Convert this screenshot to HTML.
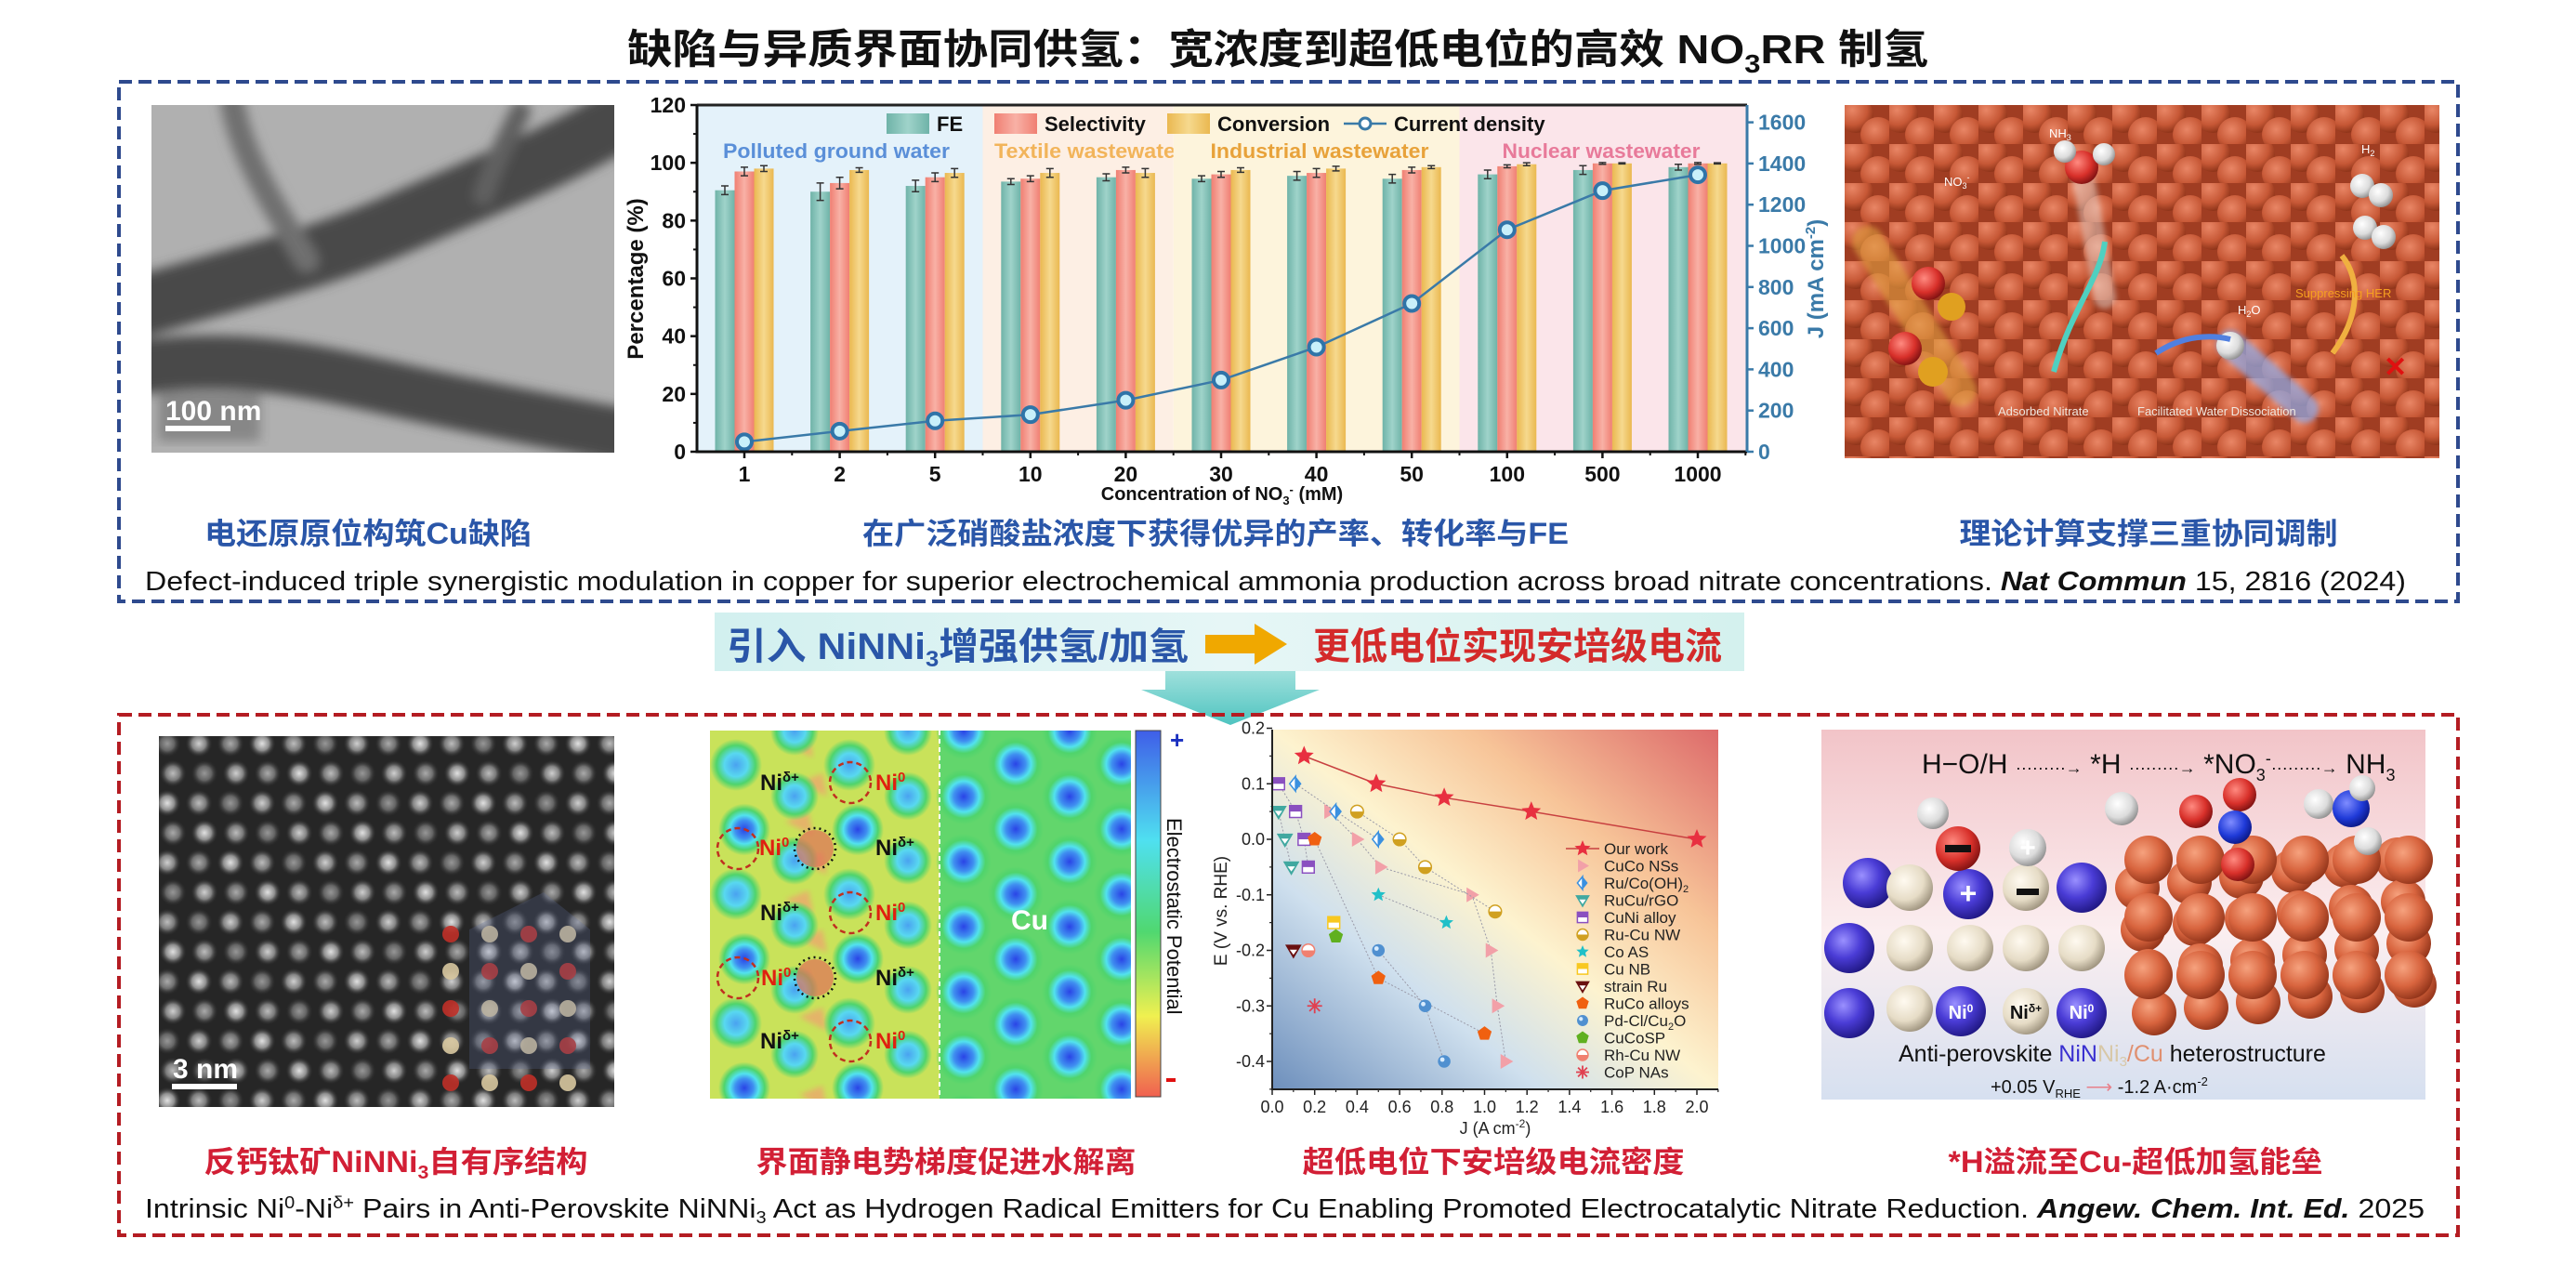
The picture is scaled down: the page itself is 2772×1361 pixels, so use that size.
<!DOCTYPE html>
<html><head><meta charset="utf-8">
<style>
html,body{margin:0;padding:0;background:#fff;}
body{width:2772px;height:1361px;overflow:hidden;position:relative;font-family:"Liberation Sans","Noto Sans CJK SC",sans-serif;}
svg{position:absolute;left:0;top:0;}
text{font-family:"Liberation Sans","Noto Sans CJK SC",sans-serif;}
</style></head>
<body>
<svg id="fig" width="2772" height="1361" viewBox="0 0 2772 1361" xmlns="http://www.w3.org/2000/svg">
<defs>
  <linearGradient id="gTeal" x1="0" x2="1"><stop offset="0" stop-color="#6fb3a8"/><stop offset="0.5" stop-color="#9fd3ca"/><stop offset="1" stop-color="#6fb3a8"/></linearGradient>
  <linearGradient id="gPink" x1="0" x2="1"><stop offset="0" stop-color="#f07f72"/><stop offset="0.5" stop-color="#f8b1a6"/><stop offset="1" stop-color="#f07f72"/></linearGradient>
  <linearGradient id="gYel" x1="0" x2="1"><stop offset="0" stop-color="#eab850"/><stop offset="0.5" stop-color="#f6d98e"/><stop offset="1" stop-color="#eab850"/></linearGradient>
  <linearGradient id="gBot" x1="0" y1="1" x2="1" y2="0">
    <stop offset="0" stop-color="#6d8fbc"/><stop offset="0.3" stop-color="#cfe0ee"/><stop offset="0.5" stop-color="#fdf3cf"/><stop offset="0.72" stop-color="#f7c498"/><stop offset="1" stop-color="#dd6a6a"/></linearGradient>
  <radialGradient id="gCu" cx="0.38" cy="0.35" r="0.7"><stop offset="0" stop-color="#f6a27e"/><stop offset="0.55" stop-color="#d8643e"/><stop offset="1" stop-color="#8e3218"/></radialGradient>
  <radialGradient id="gBlue" cx="0.38" cy="0.35" r="0.7"><stop offset="0" stop-color="#9a90ff"/><stop offset="0.5" stop-color="#4a3cd6"/><stop offset="1" stop-color="#1e1680"/></radialGradient>
  <radialGradient id="gBeige" cx="0.38" cy="0.35" r="0.7"><stop offset="0" stop-color="#fffaf0"/><stop offset="0.6" stop-color="#e6dcc6"/><stop offset="1" stop-color="#9a8f7a"/></radialGradient>
  <radialGradient id="gRed" cx="0.38" cy="0.35" r="0.7"><stop offset="0" stop-color="#ff8a80"/><stop offset="0.6" stop-color="#d8302a"/><stop offset="1" stop-color="#7a1010"/></radialGradient>
  <radialGradient id="gWhite" cx="0.38" cy="0.35" r="0.7"><stop offset="0" stop-color="#ffffff"/><stop offset="0.6" stop-color="#dcdcdc"/><stop offset="1" stop-color="#8a8a8a"/></radialGradient>
  <radialGradient id="gN" cx="0.38" cy="0.35" r="0.7"><stop offset="0" stop-color="#7f8cff"/><stop offset="0.6" stop-color="#1f3ad8"/><stop offset="1" stop-color="#0a1680"/></radialGradient>
  <radialGradient id="gAtom"><stop offset="0" stop-color="#2a44e6"/><stop offset="0.35" stop-color="#3f8ff0"/><stop offset="0.55" stop-color="#52e2ee"/><stop offset="0.78" stop-color="#4fd46c"/><stop offset="1" stop-color="#4fd46c" stop-opacity="0"/></radialGradient>
  <radialGradient id="gAtom2"><stop offset="0" stop-color="#4aa2f0"/><stop offset="0.45" stop-color="#58d8f0"/><stop offset="0.75" stop-color="#4fd46c"/><stop offset="1" stop-color="#4fd46c" stop-opacity="0"/></radialGradient>
  <radialGradient id="gStem"><stop offset="0" stop-color="#f4f4f4"/><stop offset="0.5" stop-color="#9a9a9a"/><stop offset="1" stop-color="#222" stop-opacity="0"/></radialGradient>
  <radialGradient id="gBall" cx="0.4" cy="0.35" r="0.7"><stop offset="0" stop-color="#f09070"/><stop offset="0.6" stop-color="#c85a38"/><stop offset="1" stop-color="#7a2810"/></radialGradient>
  <linearGradient id="gBanner" x1="0" x2="1"><stop offset="0" stop-color="#d2f0ef"/><stop offset="0.5" stop-color="#e6f6f6"/><stop offset="1" stop-color="#d4f1ee"/></linearGradient>
  <linearGradient id="gChev" x1="0" y1="0" x2="0" y2="1"><stop offset="0" stop-color="#9fe0dc"/><stop offset="1" stop-color="#4fc4c0"/></linearGradient>
  <linearGradient id="gRender" x1="0" y1="0" x2="0" y2="1"><stop offset="0" stop-color="#f2c4c8"/><stop offset="0.55" stop-color="#fbeef0"/><stop offset="1" stop-color="#d6e0f0"/></linearGradient>
  <linearGradient id="gCbar" x1="0" y1="0" x2="0" y2="1"><stop offset="0" stop-color="#3f5ee8"/><stop offset="0.3" stop-color="#4fe0f0"/><stop offset="0.55" stop-color="#50d870"/><stop offset="0.78" stop-color="#f0f050"/><stop offset="1" stop-color="#f06050"/></linearGradient>
  <filter id="blur6"><feGaussianBlur stdDeviation="6"/></filter>
  <filter id="blur3"><feGaussianBlur stdDeviation="3"/></filter>
  <pattern id="pBalls" x="1985" y="113" width="48" height="42" patternUnits="userSpaceOnUse">
    <rect width="48" height="42" fill="#9a3a20"/>
    <circle cx="12" cy="11" r="19" fill="url(#gBall)"/>
    <circle cx="36" cy="32" r="19" fill="url(#gBall)"/>
  </pattern>
  <clipPath id="clipMap"><rect x="764" y="786" width="453" height="396"/></clipPath>
  <clipPath id="clipStem"><rect x="171" y="792" width="490" height="399"/></clipPath>
  <clipPath id="clipTem"><rect x="163" y="113" width="498" height="374"/></clipPath>
  <clipPath id="clipDft"><rect x="1985" y="113" width="640" height="380"/></clipPath>
</defs>

<!-- Title -->
<text x="1375" y="68" text-anchor="middle" font-size="44" font-weight="bold" fill="#111" textLength="1400" lengthAdjust="spacingAndGlyphs">缺陷与异质界面协同供氢：宽浓度到超低电位的高效 NO<tspan font-size="28" dy="10">3</tspan><tspan dy="-10">RR 制氢</tspan></text>

<!-- Top box -->
<rect x="128" y="88" width="2517" height="559" fill="none" stroke="#2e4a8e" stroke-width="4" stroke-dasharray="14,7"/>

<!-- TEM image -->
<g clip-path="url(#clipTem)">
  <rect x="163" y="113" width="498" height="374" fill="#b0b0b0"/>
  <g filter="url(#blur6)" fill="none" stroke-linecap="round">
    <path d="M680 120 C600 170 520 200 430 240 C340 280 250 300 150 330" stroke="#4a4a4a" stroke-width="66"/>
    <path d="M150 395 C260 380 340 400 430 420 C520 440 600 455 680 470" stroke="#484848" stroke-width="58"/>
    <path d="M250 110 C260 170 300 230 330 280" stroke="#707070" stroke-width="26"/>
    <path d="M560 120 C540 160 530 180 520 210" stroke="#606060" stroke-width="22"/>
  </g>
  <rect x="170" y="420" width="110" height="55" fill="#2a2a2a" opacity="0.3" filter="url(#blur6)"/>
</g>
<text x="178" y="452" font-size="30" font-weight="bold" fill="#fff">100 nm</text>
<rect x="178" y="458" width="70" height="6" fill="#fff"/>

<!-- top chart -->
<g id="topChart"></g>

<!-- DFT image -->
<g clip-path="url(#clipDft)">
  <rect x="1985" y="113" width="640" height="380" fill="url(#pBalls)"/>
  <rect x="1985" y="113" width="640" height="380" fill="#c05030" opacity="0.15"/>
  <g filter="url(#blur3)">
    <path d="M2010 260 L2110 420" stroke="#e0a040" stroke-width="34" opacity="0.6" stroke-linecap="round"/>
    <path d="M2240 180 L2265 320" stroke="#e8d8d0" stroke-width="24" opacity="0.5" stroke-linecap="round"/>
    <path d="M2400 370 L2480 440" stroke="#8fb0f0" stroke-width="30" opacity="0.7" stroke-linecap="round"/>
  </g>
  <circle cx="2075" cy="305" r="18" fill="url(#gRed)"/><circle cx="2100" cy="330" r="15" fill="#e0a020"/>
  <circle cx="2080" cy="400" r="16" fill="#e0a020"/><circle cx="2050" cy="375" r="18" fill="url(#gRed)"/>
  <circle cx="2240" cy="180" r="18" fill="url(#gRed)"/><circle cx="2222" cy="163" r="12" fill="url(#gWhite)"/><circle cx="2264" cy="166" r="12" fill="url(#gWhite)"/>
  <circle cx="2542" cy="200" r="13" fill="url(#gWhite)"/><circle cx="2562" cy="210" r="13" fill="url(#gWhite)"/>
  <circle cx="2545" cy="245" r="13" fill="url(#gWhite)"/><circle cx="2565" cy="255" r="13" fill="url(#gWhite)"/>
  <circle cx="2400" cy="372" r="15" fill="url(#gWhite)"/>
  <path d="M2210 400 C2230 330 2260 300 2265 260" stroke="#4fd0c0" stroke-width="6" fill="none"/>
  <path d="M2320 380 C2350 360 2380 360 2400 365" stroke="#5080e0" stroke-width="6" fill="none"/>
  <path d="M2510 380 C2540 340 2540 300 2520 275" stroke="#f0b040" stroke-width="6" fill="none"/>
  <text x="2565" y="405" font-size="30" font-weight="bold" fill="#e01010">✕</text>
  <text x="2092" y="200" font-size="13" fill="#fff">NO<tspan font-size="9" dy="3">3</tspan><tspan font-size="9" dy="-9">-</tspan></text>
  <text x="2205" y="148" font-size="13" fill="#fff">NH<tspan font-size="9" dy="3">3</tspan></text>
  <text x="2541" y="165" font-size="13" fill="#fff">H<tspan font-size="9" dy="3">2</tspan></text>
  <text x="2408" y="338" font-size="13" fill="#fff">H<tspan font-size="9" dy="3">2</tspan><tspan dy="-3">O</tspan></text>
  <text x="2470" y="320" font-size="13" fill="#f6a020">Suppressing HER</text>
  <text x="2150" y="447" font-size="13" fill="#f0e8e0">Adsorbed Nitrate</text>
  <text x="2300" y="447" font-size="13" fill="#f0e8e0">Facilitated Water Dissociation</text>
</g>

<!-- Top captions -->
<text x="396" y="585" text-anchor="middle" font-size="32" font-weight="bold" fill="#2a56a8" textLength="352" lengthAdjust="spacingAndGlyphs">电还原原位构筑Cu缺陷</text>
<text x="1308" y="585" text-anchor="middle" font-size="32" font-weight="bold" fill="#2a56a8" textLength="760" lengthAdjust="spacingAndGlyphs">在广泛硝酸盐浓度下获得优异的产率、转化率与FE</text>
<text x="2312" y="585" text-anchor="middle" font-size="32" font-weight="bold" fill="#2a56a8" textLength="407" lengthAdjust="spacingAndGlyphs">理论计算支撑三重协同调制</text>
<text x="156" y="635" font-size="29" fill="#111" textLength="2433" lengthAdjust="spacingAndGlyphs">Defect-induced triple synergistic modulation in copper for superior electrochemical ammonia production across broad nitrate concentrations. <tspan font-weight="bold" font-style="italic">Nat Commun</tspan> 15, 2816 (2024)</text>

<!-- Banner -->
<rect x="769" y="659" width="1108" height="63" fill="url(#gBanner)"/>
<text x="782" y="709" font-size="40" font-weight="bold" fill="#2a56a8" textLength="497" lengthAdjust="spacingAndGlyphs">引入 NiNNi<tspan font-size="24" dy="8">3</tspan><tspan dy="-8">增强供氢/加氢</tspan></text>
<path d="M1297 683 L1350 683 L1350 671 L1385 693 L1350 715 L1350 703 L1297 703 Z" fill="#f0a800"/>
<text x="1413" y="709" font-size="40" font-weight="bold" fill="#d42a2a" textLength="440" lengthAdjust="spacingAndGlyphs">更低电位实现安培级电流</text>
<path d="M1254 722 L1394 722 L1394 742 L1420 742 L1324 780 L1228 742 L1254 742 Z" fill="url(#gChev)"/>

<!-- Bottom box -->
<rect x="128" y="769" width="2517" height="560" fill="none" stroke="#b41c22" stroke-width="4" stroke-dasharray="14,7"/>

<!-- STEM -->
<g id="stem" clip-path="url(#clipStem)">
  <rect x="171" y="792" width="490" height="399" fill="#262626"/>
</g>
<text x="186" y="1160" font-size="30" font-weight="bold" fill="#fff">3 nm</text>
<rect x="185" y="1166" width="70" height="6" fill="#fff"/>

<!-- Electrostatic map -->
<g id="emap" clip-path="url(#clipMap)">
  <rect x="764" y="786" width="250" height="396" fill="#c9e25a"/>
  <rect x="1011" y="786" width="206" height="396" fill="#62d66c"/>
</g>
<rect x="1222" y="786" width="27" height="394" fill="url(#gCbar)" stroke="#444" stroke-width="1"/>
<text x="1259" y="805" font-size="26" font-weight="bold" fill="#1a30c0">+</text>
<rect x="1255" y="1160" width="10" height="4" fill="#e01010"/>
<text transform="translate(1256,880) rotate(90)" font-size="22" fill="#111">Electrostatic Potential</text>

<!-- bottom chart -->
<g id="botChart"></g>

<!-- Right render -->
<g>
  <rect x="1960" y="785" width="650" height="398" fill="url(#gRender)"/>
  <g id="render"></g>
  <text x="2068" y="832" font-size="30" fill="#111">H−O/H <tspan font-size="18">·········→</tspan> *H <tspan font-size="18">·········→</tspan> *NO<tspan font-size="18" dy="8">3</tspan><tspan font-size="18" dy="-18">-</tspan><tspan dy="10" font-size="18">·········→</tspan> NH<tspan font-size="18" dy="8">3</tspan></text>
  <text x="2043" y="1142" font-size="25" fill="#111">Anti-perovskite <tspan fill="#3a30d0">NiN</tspan><tspan fill="#d8c8a8">Ni<tspan font-size="15" dy="5">3</tspan></tspan><tspan dy="-5" fill="#e09070">/Cu</tspan> heterostructure</text>
  <text x="2142" y="1176" font-size="20" fill="#111">+0.05 V<tspan font-size="13" dy="5">RHE</tspan><tspan dy="-5" fill="#e8808a"> ⟶ </tspan>-1.2 A·cm<tspan font-size="13" dy="-8">-2</tspan></text>
</g>

<!-- Bottom captions -->
<text x="426" y="1261" text-anchor="middle" font-size="32" font-weight="bold" fill="#d21f35" textLength="413" lengthAdjust="spacingAndGlyphs">反钙钛矿NiNNi<tspan font-size="20" dy="7">3</tspan><tspan dy="-7">自有序结构</tspan></text>
<text x="1018" y="1261" text-anchor="middle" font-size="32" font-weight="bold" fill="#d21f35" textLength="409" lengthAdjust="spacingAndGlyphs">界面静电势梯度促进水解离</text>
<text x="1607" y="1261" text-anchor="middle" font-size="32" font-weight="bold" fill="#d21f35" textLength="411" lengthAdjust="spacingAndGlyphs">超低电位下安培级电流密度</text>
<text x="2298" y="1261" text-anchor="middle" font-size="32" font-weight="bold" fill="#d21f35" textLength="403" lengthAdjust="spacingAndGlyphs">*H溢流至Cu-超低加氢能垒</text>
<text x="156" y="1310" font-size="29" fill="#111" textLength="2453" lengthAdjust="spacingAndGlyphs">Intrinsic Ni<tspan font-size="18" dy="-10">0</tspan><tspan dy="10">-Ni</tspan><tspan font-size="18" dy="-10">δ+</tspan><tspan dy="10"> Pairs in Anti-Perovskite NiNNi</tspan><tspan font-size="18" dy="6">3</tspan><tspan dy="-6"> Act as Hydrogen Radical Emitters for Cu Enabling Promoted Electrocatalytic Nitrate Reduction. </tspan><tspan font-weight="bold" font-style="italic">Angew. Chem. Int. Ed.</tspan> 2025</text>
</svg>

<script>
// ===== Top chart data =====
const categories = ["1","2","5","10","20","30","40","50","100","500","1000"];
const feValues = [90.5, 90, 92, 93.5, 95, 94.5, 95.5, 94.5, 96, 97.5, 98.5];
const feErrors = [1.5, 3, 2, 1, 1.2, 1, 1.5, 1.5, 1.5, 1.5, 1];
const selectivityValues = [97, 93, 95, 94.5, 97.5, 96, 96.5, 97.5, 98.8, 99.8, 99.8];
const selectivityErrors = [1.5, 2, 1.5, 1, 1, 1, 1.5, 1, 0.5, 0.3, 0.3];
const conversionValues = [98, 97.5, 96.5, 96.5, 96.5, 97.5, 98, 98.5, 99.5, 99.8, 99.8];
const conversionErrors = [1, 0.8, 1.5, 1.5, 1.5, 0.8, 0.8, 0.5, 0.5, 0.2, 0.2];
const currentDensity = [48, 100, 150, 180, 250, 348, 508, 720, 1078, 1268, 1345];
const leftTicks = [0, 20, 40, 60, 80, 100, 120];
const rightTicks = [0, 200, 400, 600, 800, 1000, 1200, 1400, 1600];
const regionNames = ["Polluted ground water", "Textile wastewater", "Industrial wastewater", "Nuclear wastewater"];
const regionSpans = [[0, 2], [3, 4], [5, 7], [8, 10]];

// ===== Bottom chart data =====
const seriesNames = ["Our work","CuCo NSs","Ru/Co(OH)2","RuCu/rGO","CuNi alloy","Ru-Cu NW","Co AS","Cu NB","strain Ru","RuCo alloys","Pd-Cl/Cu2O","CuCoSP","Rh-Cu NW","CoP NAs"];
const seriesJ = [
  [0.15, 0.49, 0.81, 1.22, 2.0],
  [0.27, 0.4, 0.51, 0.94, 1.03, 1.06, 1.1],
  [0.11, 0.3, 0.5],
  [0.03, 0.06, 0.09],
  [0.03, 0.11, 0.15, 0.17],
  [0.4, 0.6, 0.72, 1.05],
  [0.5, 0.82],
  [0.29],
  [0.1],
  [0.2, 0.5, 1.0],
  [0.5, 0.72, 0.81],
  [0.3],
  [0.17],
  [0.2]
];
const seriesE = [
  [0.15, 0.1, 0.075, 0.05, 0.0],
  [0.05, 0.0, -0.05, -0.1, -0.2, -0.3, -0.4],
  [0.1, 0.05, 0.0],
  [0.05, 0.0, -0.05],
  [0.1, 0.05, 0.0, -0.05],
  [0.05, 0.0, -0.05, -0.13],
  [-0.1, -0.15],
  [-0.15],
  [-0.2],
  [0.0, -0.25, -0.35],
  [-0.2, -0.3, -0.4],
  [-0.175],
  [-0.2],
  [-0.3]
];
const jTicks = [0.0,0.2,0.4,0.6,0.8,1.0,1.2,1.4,1.6,1.8,2.0];
const eTicks = [0.2,0.1,0.0,-0.1,-0.2,-0.3,-0.4];

const NS = "http://www.w3.org/2000/svg";
function mk(parent, tag, attrs, txt){
  const e = document.createElementNS(NS, tag);
  for (const k in attrs) e.setAttribute(k, attrs[k]);
  if (txt !== undefined) e.textContent = txt;
  parent.appendChild(e);
  return e;
}

// ---------- top chart ----------
(function(){
  const g = document.getElementById('topChart');
  const L = 750, R = 1880, T = 113, B = 486;
  const xC = i => 801 + i * 102.6;
  const yP = v => B - (v / 120) * (B - T);
  const yJ = j => B - j * 0.2215;
  const regionFills = ["#e4f2fa", "#fdefe4", "#fdf4dc", "#fbe5ea"];
  const regionColors = ["#5a8fd8", "#f2b45a", "#e8a23a", "#e87a9a"];
  const labelCenters = [900, 1172, 1420, 1723];
  const labelWidths = [244, 204, 235, 213];
  regionSpans.forEach((s, k) => {
    const x0 = k === 0 ? L : (xC(s[0]) + xC(s[0]-1)) / 2;
    const x1 = k === regionSpans.length-1 ? R : (xC(s[1]) + xC(s[1]+1)) / 2;
    const r = mk(g, 'rect', {x:x0, y:T, width:x1-x0, height:B-T, fill:regionFills[k]});
    
    
    const t = mk(g, 'text', {x:labelCenters[k], y:170, 'text-anchor':'middle', 'font-size':22, 'font-weight':'bold', fill:regionColors[k], textLength:labelWidths[k], lengthAdjust:'spacingAndGlyphs'}, regionNames[k]);
    
    
  });
  const sets = [[feValues, feErrors, 'url(#gTeal)', -21], [selectivityValues, selectivityErrors, 'url(#gPink)', 0], [conversionValues, conversionErrors, 'url(#gYel)', 21]];
  sets.forEach((s, si) => {
    categories.forEach((c, i) => {
      const x = xC(i) + s[3] - 10.5, y = yP(s[0][i]);
      const b = mk(g, 'rect', {x:x, y:y, width:21, height:B-y, fill:s[2]});
      
      
      const cx = x + 10.5, e1 = yP(s[0][i] + s[1][i]), e2 = yP(s[0][i] - s[1][i]);
      mk(g, 'path', {d:`M${cx} ${e1} V${e2} M${cx-4} ${e1} H${cx+4} M${cx-4} ${e2} H${cx+4}`, stroke:'#333', 'stroke-width':1.5, fill:'none'});
    });
  });
  const pts = currentDensity.map((j, i) => `${xC(i)},${yJ(j)}`).join(' ');
  const ln = mk(g, 'polyline', {points:pts, fill:'none', stroke:'#3a7aa8', 'stroke-width':2.5});
  
  
  currentDensity.forEach((j, i) => {
    const p = mk(g, 'circle', {cx:xC(i), cy:yJ(j), r:8, fill:'#c8f0fa', stroke:'#2f74a8', 'stroke-width':4});
    
    
  });
  mk(g, 'path', {d:`M${L} ${T} H${R}`, stroke:'#222', 'stroke-width':3});
  mk(g, 'path', {d:`M${L} ${T} V${B} H${R}`, stroke:'#111', 'stroke-width':3, fill:'none'});
  mk(g, 'path', {d:`M${R} ${T} V${B}`, stroke:'#3a7aa8', 'stroke-width':3});
  leftTicks.forEach(v => {
    mk(g, 'path', {d:`M${L-7} ${yP(v)} H${L}`, stroke:'#111', 'stroke-width':2.5});
    if (v < 120) mk(g, 'path', {d:`M${L-4} ${yP(v+10)} H${L}`, stroke:'#111', 'stroke-width':2});
    const t = mk(g, 'text', {x:L-12, y:yP(v)+8, 'text-anchor':'end', 'font-size':23, 'font-weight':'bold', fill:'#111'}, v);
    
    
  });
  rightTicks.forEach(v => {
    mk(g, 'path', {d:`M${R} ${yJ(v)} H${R+7}`, stroke:'#3a7aa8', 'stroke-width':2.5});
    const t = mk(g, 'text', {x:R+12, y:yJ(v)+8, 'font-size':23, 'font-weight':'bold', fill:'#3a7aa8'}, v);
    
    
  });
  categories.forEach((c, i) => {
    mk(g, 'path', {d:`M${xC(i)} ${B} V${B+7}`, stroke:'#111', 'stroke-width':2.5});
    mk(g, 'path', {d:`M${xC(i)+51.3} ${B} V${B+4}`, stroke:'#111', 'stroke-width':2});
    const t = mk(g, 'text', {x:xC(i), y:B+32, 'text-anchor':'middle', 'font-size':23, 'font-weight':'bold', fill:'#111'}, c);
    
    
  });
  const xt = mk(g, 'text', {x:1315, y:538, 'text-anchor':'middle', 'font-size':20, 'font-weight':'bold', fill:'#111'});
  xt.innerHTML = 'Concentration of NO<tspan font-size="13" dy="5">3</tspan><tspan font-size="13" dy="-12">-</tspan><tspan dy="7"> (mM)</tspan>';
  
  
  const yt = mk(g, 'text', {transform:'translate(692,300) rotate(-90)', 'text-anchor':'middle', 'font-size':24, 'font-weight':'bold', fill:'#111'}, 'Percentage (%)');
  
  
  const yt2 = mk(g, 'text', {transform:'translate(1962,300) rotate(-90)', 'text-anchor':'middle', 'font-size':24, 'font-weight':'bold', fill:'#3a7aa8'});
  yt2.innerHTML = 'J (mA cm<tspan font-size="15" dy="-9">-2</tspan><tspan dy="9">)</tspan>';
  
  
  const leg = [[954, 'url(#gTeal)', 'FE'], [1070, 'url(#gPink)', 'Selectivity'], [1256, 'url(#gYel)', 'Conversion']];
  leg.forEach(l => {
    const s = mk(g, 'rect', {x:l[0], y:122, width:46, height:22, fill:l[1]});
    
    
    const t = mk(g, 'text', {x:l[0]+54, y:141, 'font-size':22, 'font-weight':'bold', fill:'#111'}, l[2]);
    
    
  });
  mk(g, 'path', {d:'M1446 133 H1492', stroke:'#3a7aa8', 'stroke-width':2.5});
  mk(g, 'circle', {cx:1469, cy:133, r:6, fill:'#fff', stroke:'#3a7aa8', 'stroke-width':3});
  const lt = mk(g, 'text', {x:1500, y:141, 'font-size':22, 'font-weight':'bold', fill:'#111'}, 'Current density');
  
  
})();

// ---------- bottom chart ----------
(function(){
  const g = document.getElementById('botChart');
  const L = 1369, R = 1849, T = 785, B = 1172;
  const xJ = j => L + j * 228.5;
  const yE = e => 903 - e * 597.5;
  mk(g, 'rect', {x:L, y:T, width:R-L, height:B-T, fill:'url(#gBot)'});
  const styles = [
    ['star', '#e83040'], ['tri', '#f2a0a8'], ['diamond', '#3a90e0'], ['tridown', '#40a8a0'],
    ['square', '#8a50c0'], ['circleH', '#d0a020'], ['star', '#20c0c8'], ['square', '#f8c820'],
    ['tridown', '#6a1010'], ['pent', '#f06010'], ['ball', '#5090d0'], ['pent', '#60b020'],
    ['circleH', '#f08070'], ['ast', '#e04050']
  ];
  function marker(par, type, color, x, y, s){
    let el;
    if (type === 'star') {
      let d = '';
      for (let k=0;k<10;k++){const r=k%2?s*0.45:s; const a=-Math.PI/2+k*Math.PI/5; d+=(k?'L':'M')+(x+r*Math.cos(a)).toFixed(1)+' '+(y+r*Math.sin(a)).toFixed(1);}
      el = mk(par, 'path', {d:d+'Z', fill:color});
    } else if (type === 'tri') {
      el = mk(par, 'path', {d:`M${x-s*0.7} ${y-s} L${x+s} ${y} L${x-s*0.7} ${y+s} Z`, fill:color});
    } else if (type === 'tridown') {
      el = mk(par, 'path', {d:`M${x-s} ${y-s*0.7} L${x+s} ${y-s*0.7} L${x} ${y+s} Z`, fill:color, stroke:color, 'stroke-width':1});
      mk(par, 'path', {d:`M${x-s*0.5} ${y-s*0.1} L${x+s*0.5} ${y-s*0.1} L${x} ${y+s*0.6} Z`, fill:'#fff'});
    } else if (type === 'diamond') {
      el = mk(par, 'path', {d:`M${x} ${y-s} L${x+s*0.8} ${y} L${x} ${y+s} Z`, fill:color});
      mk(par, 'path', {d:`M${x} ${y-s} L${x-s*0.8} ${y} L${x} ${y+s} Z`, fill:'#fff', stroke:color, 'stroke-width':1.5});
    } else if (type === 'square') {
      el = mk(par, 'rect', {x:x-s*0.8, y:y-s*0.8, width:s*1.6, height:s*1.6, fill:'#fff', stroke:color, 'stroke-width':1.5});
      mk(par, 'rect', {x:x-s*0.8, y:y-s*0.8, width:s*1.6, height:s*0.8, fill:color});
    } else if (type === 'circleH') {
      el = mk(par, 'circle', {cx:x, cy:y, r:s*0.85, fill:'#fff', stroke:color, 'stroke-width':1.5});
      mk(par, 'path', {d:`M${x-s*0.85} ${y} A${s*0.85} ${s*0.85} 0 0 0 ${x+s*0.85} ${y} Z`, fill:color});
    } else if (type === 'pent') {
      let d=''; for(let k=0;k<5;k++){const a=-Math.PI/2+k*2*Math.PI/5; d+=(k?'L':'M')+(x+s*Math.cos(a)).toFixed(1)+' '+(y+s*Math.sin(a)).toFixed(1);}
      el = mk(par, 'path', {d:d+'Z', fill:color});
    } else if (type === 'ball') {
      el = mk(par, 'circle', {cx:x, cy:y, r:s*0.85, fill:color});
      mk(par, 'circle', {cx:x-s*0.25, cy:y-s*0.25, r:s*0.3, fill:'#d8ecff'});
    } else {
      el = mk(par, 'path', {d:`M${x-s} ${y} H${x+s} M${x} ${y-s} V${y+s} M${x-s*0.7} ${y-s*0.7} L${x+s*0.7} ${y+s*0.7} M${x+s*0.7} ${y-s*0.7} L${x-s*0.7} ${y+s*0.7}`, stroke:color, 'stroke-width':1.8});
    }
    return el;
  }
  seriesNames.forEach((n, si) => {
    const pts = seriesJ[si].map((j, k) => `${xJ(j)},${yE(seriesE[si][k])}`).join(' ');
    if (seriesJ[si].length > 1) {
      const ln = mk(g, 'polyline', si === 0 ? {points:pts, fill:'none', stroke:'#c84040', 'stroke-width':1.5} : {points:pts, fill:'none', stroke:'#9a9aa8', 'stroke-width':1, 'stroke-dasharray':'2,2'});
      
      
    }
    seriesJ[si].forEach((j, k) => {
      const m = marker(g, styles[si][0], styles[si][1], xJ(j), yE(seriesE[si][k]), si === 0 ? 11 : 8);
      
      
    });
    const ly = 913 + si * 18.5;
    if (si === 0) mk(g, 'path', {d:`M1685 ${ly} H1721`, stroke:'#c84040', 'stroke-width':1.5});
    marker(g, styles[si][0], styles[si][1], 1703, ly, si === 0 ? 9 : 7);
    const t = mk(g, 'text', {x:1726, y:ly+6, 'font-size':17, fill:'#222'});
    if (n === 'Ru/Co(OH)2') t.innerHTML = ' Ru/Co(OH)<tspan font-size="11" dy="4">2</tspan>';
    else if (n === 'Pd-Cl/Cu2O') t.innerHTML = 'Pd-Cl/Cu<tspan font-size="11" dy="4">2</tspan><tspan dy="-4">O</tspan>';
    else t.textContent = n;
    
    
  });
  mk(g, 'path', {d:`M${L} ${T} V${B} H${R}`, stroke:'#222', 'stroke-width':2, fill:'none'});
  jTicks.forEach((j, k) => {
    mk(g, 'path', {d:`M${xJ(j)} ${B} V${B+6}`, stroke:'#222', 'stroke-width':1.5});
    mk(g, 'path', {d:`M${xJ(j)+22.85} ${B} V${B+3}`, stroke:'#222', 'stroke-width':1.2});
    const t = mk(g, 'text', {x:xJ(j), y:B+25, 'text-anchor':'middle', 'font-size':18, fill:'#222'}, j.toFixed(1));
    
    
  });
  eTicks.forEach(e => {
    mk(g, 'path', {d:`M${L-6} ${yE(e)} H${L}`, stroke:'#222', 'stroke-width':1.5});
    mk(g, 'path', {d:`M${L-3} ${yE(e-0.05)} H${L}`, stroke:'#222', 'stroke-width':1.2});
    const t = mk(g, 'text', {x:L-8, y:yE(e)+6, 'text-anchor':'end', 'font-size':18, fill:'#222'}, e.toFixed(1));
    
    
  });
  const xt = mk(g, 'text', {x:1609, y:1220, 'text-anchor':'middle', 'font-size':18, fill:'#222'});
  xt.innerHTML = 'J (A cm<tspan font-size="12" dy="-7">-2</tspan><tspan dy="7">)</tspan>';
  
  
  const yt = mk(g, 'text', {transform:'translate(1320,980) rotate(-90)', 'text-anchor':'middle', 'font-size':19, fill:'#222'}, 'E (V vs. RHE)');
  
  
})();

// ---------- decorative images ----------
(function(){
  const s = document.getElementById('stem');
  for (let r=0; r<13; r++) for (let c=0; c<15; c++){
    const x = 180 + c*34 + (r%2)*6, y = 800 + r*32;
    mk(s, 'circle', {cx:x, cy:y, r:15, fill:'url(#gStem)', opacity: 0.55 + ((r*7+c*3)%5)*0.09});
  }
  for (let r=0; r<5; r++) for (let c=0; c<4; c++){
    const x = 485 + c*42, y = 1005 + r*40;
    mk(s, 'circle', {cx:x, cy:y, r:9, fill: (r+c)%2 ? '#d8c8a0' : '#c03028', opacity:0.9});
  }
  mk(s, 'path', {d:'M505 1000 L585 960 L635 1000 L635 1150 L505 1150 Z', fill:'#6070a0', opacity:0.25});
  const m = document.getElementById('emap');
  for (let k=0;k<10;k++){ mk(m, 'path', {d:`M${845+(k%2)*15} ${800+k*42} l25 -10 l5 25 Z`, fill:'#f0a070', opacity:0.7, filter:'url(#blur3)'}); }
  const rowsL = [0,1,2,3,4,5];
  rowsL.forEach(i => {
    const y = 787 + i*69.5;
    [792, 914].forEach(x => mk(m, 'circle', {cx:x + ((i%2)?9:0), cy:y+36, r:28, fill:i%2 ? 'url(#gAtom)' : 'url(#gAtom2)'}));
    [855, 977].forEach(x => mk(m, 'circle', {cx:x, cy:y, r:26, fill:'url(#gAtom2)'}));
  });
  [[1037,0],[1093,35],[1151,0],[1207,35]].forEach(cc => {
    for (let i=-1;i<7;i++) mk(m, 'circle', {cx:cc[0], cy:787+cc[1]+i*70, r:30, fill:'url(#gAtom)'});
  });
  mk(m, 'path', {d:'M1011 786 V1182', stroke:'#fff', 'stroke-width':2, 'stroke-dasharray':'5,4'});
  const dashed = [[915,842,'#c03020'],[794,913,'#c03020'],[915,982,'#c03020'],[794,1052,'#c03020'],[915,1120,'#c03020']];
  dashed.forEach(d => mk(m, 'circle', {cx:d[0], cy:d[1], r:22, fill:'none', stroke:d[2], 'stroke-width':2.5, 'stroke-dasharray':'6,4'}));
  [[877,913],[877,1052]].forEach(d => { mk(m, 'circle', {cx:d[0], cy:d[1], r:20, fill:'#e07058', opacity:0.7}); mk(m, 'circle', {cx:d[0], cy:d[1], r:22, fill:'none', stroke:'#111', 'stroke-width':2.5, 'stroke-dasharray':'2,4'}); });
  const labs = [[818,850,'Ni','δ+','#111'],[942,850,'Ni','0','#e02010'],[817,920,'Ni','0','#e02010'],[942,920,'Ni','δ+','#111'],[818,990,'Ni','δ+','#111'],[942,990,'Ni','0','#e02010'],[819,1060,'Ni','0','#e02010'],[942,1060,'Ni','δ+','#111'],[818,1128,'Ni','δ+','#111'],[942,1128,'Ni','0','#e02010']];
  labs.forEach(l => mk(m, 'text', {x:l[0], y:l[1], 'font-size':24, 'font-weight':'bold', fill:l[4]}).innerHTML = `Ni<tspan font-size="15" dy="-9">${l[3]}</tspan>`);
  mk(m, 'text', {x:1108, y:1000, 'text-anchor':'middle', 'font-size':30, 'font-weight':'bold', fill:'#fff'}, 'Cu');
  const r = document.getElementById('render');
  for (let row=0; row<4; row++) for (let c=0; c<6; c++){
    mk(r, 'circle', {cx:2300 + c*56 + row*6, cy:955 + row*45 - c*6, r:24, fill:'url(#gCu)'});
  }
  for (let row=0; row<3; row++) for (let c=0; c<6; c++){
    mk(r, 'circle', {cx:2312 + c*56, cy:925 + row*62, r:26, fill:'url(#gCu)'});
  }
  [[1990,1020],[1990,1090],[2240,955],[2240,1090],[2118,962],[2110,1088],[2010,950]].forEach(p => mk(r, 'circle', {cx:p[0], cy:p[1], r:27, fill:'url(#gBlue)'}));
  [[2055,955],[2055,1020],[2055,1085],[2120,1020],[2180,955],[2180,1020],[2180,1088],[2240,1020]].forEach(p => mk(r, 'circle', {cx:p[0], cy:p[1], r:25, fill:'url(#gBeige)'}));
  mk(r, 'circle', {cx:2080, cy:875, r:17, fill:'url(#gWhite)'});
  mk(r, 'circle', {cx:2107, cy:913, r:24, fill:'url(#gRed)'});
  mk(r, 'rect', {x:2093, y:909, width:28, height:8, fill:'#111'});
  mk(r, 'circle', {cx:2182, cy:912, r:20, fill:'url(#gWhite)'});
  mk(r, 'text', {x:2182, y:922, 'text-anchor':'middle', 'font-size':30, 'font-weight':'bold', fill:'#fff'}, '+');
  mk(r, 'circle', {cx:2283, cy:870, r:18, fill:'url(#gWhite)'});
  mk(r, 'circle', {cx:2363, cy:873, r:18, fill:'url(#gRed)'});
  mk(r, 'circle', {cx:2410, cy:855, r:18, fill:'url(#gRed)'});
  mk(r, 'circle', {cx:2405, cy:890, r:18, fill:'url(#gN)'});
  mk(r, 'circle', {cx:2408, cy:930, r:18, fill:'url(#gRed)'});
  mk(r, 'circle', {cx:2495, cy:865, r:16, fill:'url(#gWhite)'});
  mk(r, 'circle', {cx:2530, cy:870, r:20, fill:'url(#gN)'});
  mk(r, 'circle', {cx:2542, cy:848, r:14, fill:'url(#gWhite)'});
  mk(r, 'circle', {cx:2548, cy:905, r:15, fill:'url(#gWhite)'});
  mk(r, 'text', {x:2118, y:972, 'text-anchor':'middle', 'font-size':32, 'font-weight':'bold', fill:'#fff'}, '+');
  mk(r, 'rect', {x:2170, y:956, width:24, height:7, fill:'#111'});
  mk(r, 'text', {x:2110, y:1096, 'text-anchor':'middle', 'font-size':20, 'font-weight':'bold', fill:'#fff'}).innerHTML = 'Ni<tspan font-size="12" dy="-7">0</tspan>';
  mk(r, 'text', {x:2180, y:1096, 'text-anchor':'middle', 'font-size':20, 'font-weight':'bold', fill:'#111'}).innerHTML = 'Ni<tspan font-size="12" dy="-7">δ+</tspan>';
  mk(r, 'text', {x:2240, y:1096, 'text-anchor':'middle', 'font-size':20, 'font-weight':'bold', fill:'#fff'}).innerHTML = 'Ni<tspan font-size="12" dy="-7">0</tspan>';
})();
</script>
</body></html>
